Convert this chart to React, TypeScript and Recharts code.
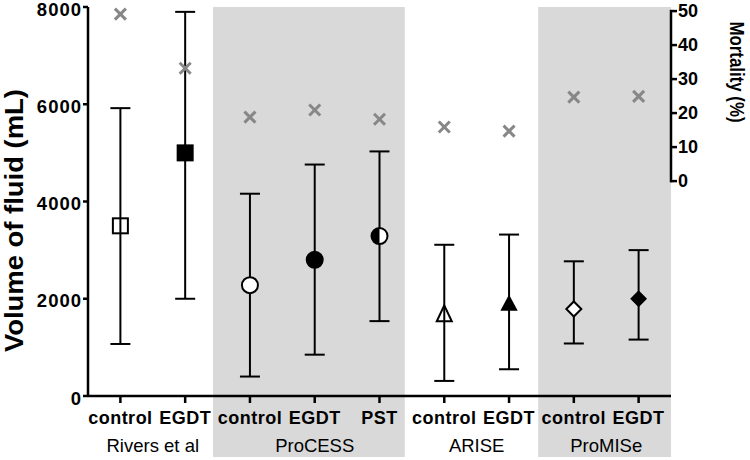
import { ComposedChart, Scatter, XAxis, YAxis, ErrorBar, ReferenceArea, ReferenceLine } from 'recharts'

// arms along the x axis, grouped by trial
const arms = ['control', 'EGDT', 'control', 'EGDT', 'PST', 'control', 'EGDT', 'control', 'EGDT']
const groupNames = ['Rivers et al', 'ProCESS', 'ARISE', 'ProMISe']
const groupCenters = [1.5, 4, 6.5, 8.5]

// volume of fluid (mL): mean and range of the bars
const fluidMean = [3500, 5000, 2280, 2800, 3290, 1700, 1910, 1790, 2000]
const fluidLow = [1070, 2000, 400, 850, 1540, 310, 550, 1080, 1160]
const fluidHigh = [5920, 7900, 4160, 4760, 5030, 3110, 3320, 2770, 3000]

// mortality (%)
const mortality = [49.1, 33.2, 18.8, 20.9, 18.2, 15.9, 14.7, 24.7, 24.9]

const markerKind = [
  'square-open', 'square',
  'circle-open', 'circle', 'circle-half',
  'triangle-open', 'triangle',
  'diamond-open', 'diamond',
]

// shaded trial bands (x in arm units)
const shadeFrom = [2.43, 7.45]
const shadeTo = [5.39, 9.5]

const leftTicks = [0, 2000, 4000, 6000, 8000]
const rightTicks = [0, 10, 20, 30, 40, 50]

const rows = arms.map((arm, i) => ({
  x: i + 1,
  arm,
  kind: markerKind[i],
  fluid: fluidMean[i],
  err: [fluidMean[i] - fluidLow[i], fluidHigh[i] - fluidMean[i]],
  mort: mortality[i],
}))

const FONT = '"Liberation Sans", Arial, Helvetica, sans-serif'
const axisStroke = { stroke: '#000', strokeWidth: 2.5 }

// eslint-disable-next-line @typescript-eslint/no-explicit-any
function Marker(p: any) {
  const { cx, cy, payload } = p
  if (cx == null || cy == null) return <g />
  const k: string = payload.kind
  const sw = 2
  if (k.startsWith('square')) {
    const open = k === 'square-open'
    return <rect x={cx - 7.5} y={cy - 7.5} width={15} height={15} fill={open ? 'none' : '#000'} stroke="#000" strokeWidth={sw} />
  }
  if (k === 'circle-half') {
    const r = 8
    return (
      <g>
        <circle cx={cx} cy={cy} r={r} fill="#fff" stroke="#000" strokeWidth={sw} />
        <path d={`M${cx},${cy - r} A${r},${r} 0 0 0 ${cx},${cy + r} Z`} fill="#000" />
      </g>
    )
  }
  if (k.startsWith('circle')) {
    const open = k === 'circle-open'
    return <circle cx={cx} cy={cy} r={8} fill={open ? '#fff' : '#000'} stroke="#000" strokeWidth={sw} />
  }
  if (k.startsWith('triangle')) {
    const open = k === 'triangle-open'
    const w = open ? 7.5 : 7
    const h = open ? 8 : 6.5
    return (
      <path
        d={`M${cx},${cy - h} L${cx + w},${cy + h} L${cx - w},${cy + h} Z`}
        fill={open ? 'none' : '#000'} stroke="#000" strokeWidth={sw} strokeLinejoin="miter"
      />
    )
  }
  const open = k === 'diamond-open'
  const d = open ? 7.5 : 7
  return (
    <path
      d={`M${cx},${cy - d} L${cx + d},${cy} L${cx},${cy + d} L${cx - d},${cy} Z`}
      fill={open ? '#fff' : '#000'} stroke="#000" strokeWidth={sw}
    />
  )
}

// eslint-disable-next-line @typescript-eslint/no-explicit-any
function Cross(p: any) {
  const { cx, cy } = p
  if (cx == null || cy == null) return <g />
  const s = 5.5
  return (
    <g stroke="#878787" strokeWidth={3}>
      <line x1={cx - s} y1={cy - s} x2={cx + s} y2={cy + s} />
      <line x1={cx - s} y1={cy + s} x2={cx + s} y2={cy - s} />
    </g>
  )
}

// left tick labels sit a touch below their tick, as in the original
// eslint-disable-next-line @typescript-eslint/no-explicit-any
function LeftTick(p: any) {
  const { x, y, payload } = p
  return (
    <text x={x} y={y + 2} dy="0.355em" textAnchor="end" fill="#000" fontFamily={FONT} fontWeight={700}
      fontSize={18.5} letterSpacing={1}>
      {payload.value}
    </text>
  )
}

// eslint-disable-next-line @typescript-eslint/no-explicit-any
function LeftLabel(p: any) {
  const vb = p.viewBox || { x: 0, y: 0, width: 88, height: 389 }
  const cx = vb.x + 14
  const cy = vb.y + vb.height / 2 + 19
  return (
    <text x={cx} y={cy} transform={`rotate(-90 ${cx} ${cy})`} textAnchor="middle" dominantBaseline="central"
      fontFamily={FONT} fontWeight={700} fontSize={26} textLength={263} lengthAdjust="spacingAndGlyphs" fill="#000">
      Volume of fluid (mL)
    </text>
  )
}

// eslint-disable-next-line @typescript-eslint/no-explicit-any
function RightLabel(p: any) {
  const vb = p.viewBox || { x: 671, y: 7, width: 79, height: 389 }
  const cx = vb.x + 66
  const cy = vb.y + 65
  return (
    <text x={cx} y={cy} transform={`rotate(90 ${cx} ${cy})`} textAnchor="middle" dominantBaseline="central"
      fontFamily={FONT} fontWeight={700} fontSize={21} textLength={101} lengthAdjust="spacingAndGlyphs" fill="#000">
      Mortality (%)
    </text>
  )
}

export default function App() {
  return (
    <div style={{ position: 'absolute', left: 0, top: 0, fontFamily: FONT }}>
      <ComposedChart width={750} height={460} data={rows} margin={{ top: 7, right: 0, bottom: 0, left: 0 }}>
        {shadeFrom.map((from, i) => (
          <ReferenceArea
            key={i}
            yAxisId="left"
            x1={from}
            x2={shadeTo[i]}
            y1={-1255}
            y2={8000}
            fill="#d9d9d9"
            fillOpacity={1}
            stroke="none"
            ifOverflow="visible"
          />
        ))}
        <XAxis
          dataKey="x"
          type="number"
          domain={[0.5, 9.5]}
          allowDataOverflow
          ticks={rows.map((r) => r.x)}
          interval={0}
          tickFormatter={(v: number) => arms[v - 1] ?? ''}
          height={30}
          axisLine={axisStroke}
          tickLine={axisStroke}
          tickSize={7}
          tickMargin={8}
          tick={{ fill: '#000', fontSize: 18, fontWeight: 700, fontFamily: FONT, letterSpacing: 0.5 }}
        />
        <XAxis
          xAxisId="grp"
          dataKey="x"
          type="number"
          domain={[0.5, 9.5]}
          allowDataOverflow
          ticks={groupCenters}
          interval={0}
          tickFormatter={(v: number) => groupNames[groupCenters.indexOf(v)] ?? ''}
          height={34}
          axisLine={false}
          tickLine={false}
          tickSize={0}
          tickMargin={13}
          tick={{ fill: '#000', fontSize: 18.5, fontFamily: FONT }}
        />
        <YAxis
          yAxisId="left"
          domain={[0, 8000]}
          ticks={leftTicks}
          interval={0}
          width={88}
          axisLine={axisStroke}
          tickLine={axisStroke}
          tickSize={5}
          tickMargin={1}
          tick={<LeftTick />}
          label={<LeftLabel />}
        />
        <YAxis
          yAxisId="right"
          orientation="right"
          domain={[-63.2, 51.2]}
          ticks={rightTicks}
          interval={0}
          width={79}
          axisLine={false}
          tickLine={axisStroke}
          tickSize={6}
          tickMargin={1}
          tick={{ fill: '#000', fontSize: 18, fontWeight: 700, fontFamily: FONT }}
          label={<RightLabel />}
        />
        <ReferenceLine
          yAxisId="right"
          segment={[{ x: 9.5, y: 0 }, { x: 9.5, y: 50 }]}
          stroke="#000"
          strokeWidth={2.5}
          strokeLinecap="square"
        />
        <Scatter yAxisId="right" dataKey="mort" shape={Cross} isAnimationActive={false} />
        <Scatter yAxisId="left" dataKey="fluid" shape={Marker} isAnimationActive={false}>
          <ErrorBar dataKey="err" direction="y" width={10} strokeWidth={2} stroke="#000" />
        </Scatter>
      </ComposedChart>
    </div>
  )
}
